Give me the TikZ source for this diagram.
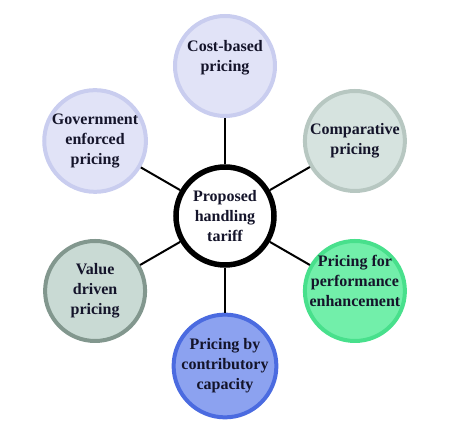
\documentclass[tikz,border=0pt]{standalone}
\usepackage{fontspec}
\setmainfont{Liberation Serif}
\definecolor{lavfill}{HTML}{E1E3F7}
\definecolor{lavline}{HTML}{C9CDEF}
\definecolor{greyfill}{HTML}{D6E3DF}
\definecolor{greyline}{HTML}{B7C7C1}
\definecolor{mintfill}{HTML}{72EFAA}
\definecolor{mintline}{HTML}{48E08C}
\definecolor{bluefill}{HTML}{8CA2F0}
\definecolor{blueline}{HTML}{4B6BE0}
\definecolor{sagefill}{HTML}{C9DAD4}
\definecolor{sageline}{HTML}{82978E}
\definecolor{inktext}{HTML}{14142A}
\tikzset{
  bubble/.style={circle, minimum size=100pt, inner sep=0pt, line width=4pt,
    align=center, font=\fontsize{16}{20}\selectfont\bfseries, text=inktext},
  hub/.style={bubble, draw=black, fill=white, line width=5.5pt, minimum size=98pt},
  lifted/.style={text depth=21pt, inner sep=-10pt},
  spoke/.style={line width=2pt, black}
}
\begin{document}
\begin{tikzpicture}[x=1pt,y=1pt]
    \useasboundingbox (-225,-227) rectangle (226,216);
    \node[hub] (tariff) at (0,0) {Proposed\\handling\\tariff};
    \node[bubble, lifted, draw=lavline, fill=lavfill] (cost) at (90:150) {Cost-based\\pricing};
    \node[bubble, draw=greyline, fill=greyfill] (comp) at (30:150) {Comparative\\pricing};
    \node[bubble, lifted, draw=mintline, fill=mintfill] (perf) at (-30:150) {Pricing for\\performance\\enhancement};
    \node[bubble, draw=blueline, fill=bluefill] (contrib) at (-90:150) {Pricing by\\contributory\\capacity};
    \node[bubble, draw=sageline, fill=sagefill] (value) at (210:150) {Value\\driven\\pricing};
    \node[bubble, draw=lavline, fill=lavfill] (gov) at (150:150) {Government\\enforced\\pricing};
    \foreach \n in {cost,comp,perf,contrib,value,gov}
      \draw[spoke] (tariff) -- (\n);
\end{tikzpicture}
\end{document}
